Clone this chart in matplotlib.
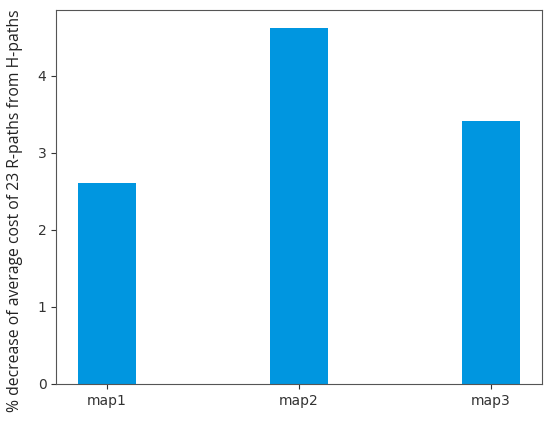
import matplotlib.pyplot as plt

maps = ['map1', 'map2', 'map3']
decrease = [2.61, 4.62, 3.41]

fig = plt.figure(figsize=(5.5, 4.21), dpi=100)
ax = fig.add_axes([0.102, 0.088, 0.883, 0.888])

ax.bar(maps, decrease, width=0.3, color='#0096e0')
fig.text(0.028, 0.5, '% decrease of average cost of 23 R-paths from H-paths',
         fontsize=11.3, family=['Open Sans', 'DejaVu Sans'], color='#222222',
         rotation=90, ha='center', va='center')
ax.set_yticks([0, 1, 2, 3, 4])
ax.tick_params(labelsize=10, colors='#333333')
for s in ax.spines.values():
    s.set_color('#555555')

fig.savefig('out.png', dpi=100)
